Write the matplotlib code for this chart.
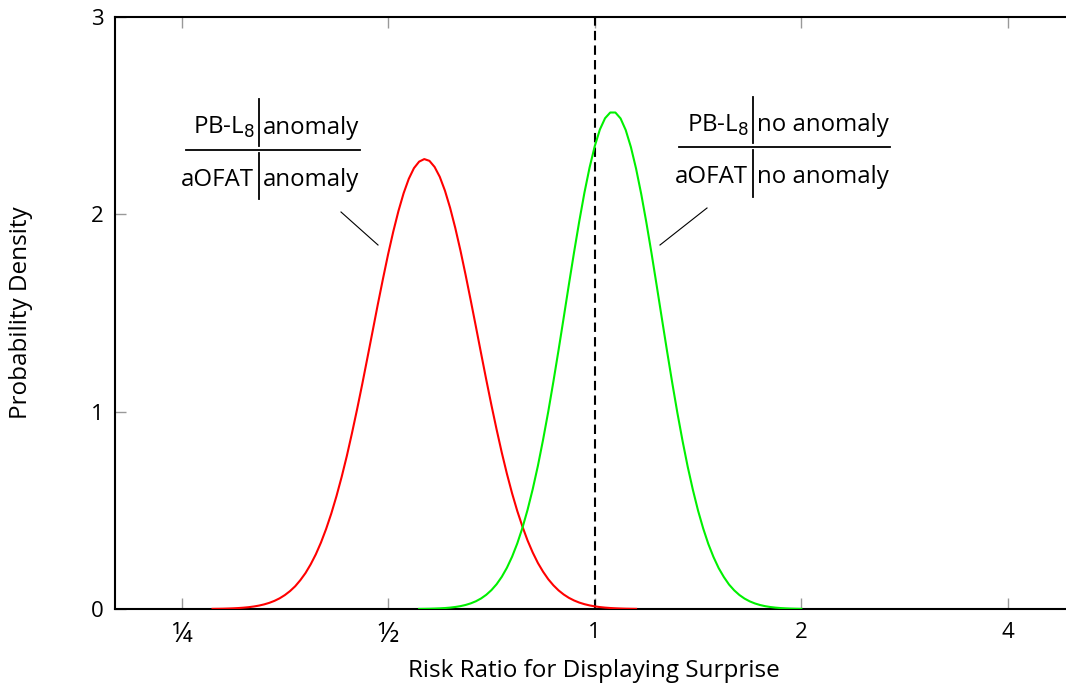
import numpy as np
import matplotlib
matplotlib.use("Agg")
import matplotlib.pyplot as plt
from matplotlib.lines import Line2D

plt.rcParams['font.family'] = ['Open Sans', 'DejaVu Sans']

# risk ratio grid (log2 of the ratio) for PB-L8|anomaly over aOFAT|anomaly
red_log2 = [-1.85, -1.825, -1.80, -1.775, -1.75, -1.725, -1.70, -1.675, -1.65, -1.625,
            -1.60, -1.575, -1.55, -1.525, -1.50, -1.475, -1.45, -1.425, -1.40, -1.375,
            -1.35, -1.325, -1.30, -1.275, -1.25, -1.225, -1.20, -1.175, -1.15, -1.125,
            -1.10, -1.075, -1.05, -1.025, -1.00, -0.975, -0.95, -0.925, -0.90, -0.875,
            -0.85, -0.825, -0.80, -0.775, -0.75, -0.725, -0.70, -0.675, -0.65, -0.625,
            -0.60, -0.575, -0.55, -0.525, -0.50, -0.475, -0.45, -0.425, -0.40, -0.375,
            -0.35, -0.325, -0.30, -0.275, -0.25, -0.225, -0.20, -0.175, -0.15, -0.125,
            -0.10, -0.075, -0.05, -0.025, 0.00, 0.025, 0.05, 0.075, 0.10, 0.125,
            0.15, 0.175, 0.20]
red_density = [0.0008, 0.0011, 0.0016, 0.0024, 0.0034, 0.0048, 0.0067, 0.0092, 0.0127, 0.0173,
               0.0234, 0.0312, 0.0413, 0.0542, 0.0705, 0.0906, 0.115, 0.146, 0.182, 0.226,
               0.277, 0.337, 0.406, 0.484, 0.572, 0.669, 0.775, 0.891, 1.013, 1.141,
               1.274, 1.408, 1.543, 1.673, 1.798, 1.913, 2.017, 2.107, 2.180, 2.234,
               2.267, 2.280, 2.271, 2.240, 2.190, 2.120, 2.033, 1.931, 1.817, 1.693,
               1.563, 1.430, 1.295, 1.162, 1.033, 0.910, 0.793, 0.685, 0.586, 0.497,
               0.418, 0.347, 0.286, 0.233, 0.189, 0.151, 0.120, 0.0942, 0.0734, 0.0565,
               0.0432, 0.0326, 0.0245, 0.0182, 0.0134, 0.0097, 0.0070, 0.0050, 0.0036, 0.0025,
               0.0017, 0.0012, 0.0008]

# risk ratio grid (log2) for PB-L8|no anomaly over aOFAT|no anomaly
green_log2 = [-0.85, -0.825, -0.80, -0.775, -0.75, -0.725, -0.70, -0.675, -0.65, -0.625,
              -0.60, -0.575, -0.55, -0.525, -0.50, -0.475, -0.45, -0.425, -0.40, -0.375,
              -0.35, -0.325, -0.30, -0.275, -0.25, -0.225, -0.20, -0.175, -0.15, -0.125,
              -0.10, -0.075, -0.05, -0.025, 0.00, 0.025, 0.05, 0.075, 0.10, 0.125,
              0.15, 0.175, 0.20, 0.225, 0.25, 0.275, 0.30, 0.325, 0.35, 0.375,
              0.40, 0.425, 0.45, 0.475, 0.50, 0.525, 0.55, 0.575, 0.60, 0.625,
              0.65, 0.675, 0.70, 0.725, 0.75, 0.775, 0.80, 0.825, 0.85, 0.875,
              0.90, 0.925, 0.95, 0.975, 1.00]
green_density = [0.0006, 0.0009, 0.0014, 0.0022, 0.0033, 0.0048, 0.0070, 0.0102, 0.0145, 0.0205,
                 0.0286, 0.0393, 0.0535, 0.0720, 0.0957, 0.1255, 0.163, 0.209, 0.265, 0.332,
                 0.411, 0.503, 0.608, 0.726, 0.858, 1.000, 1.153, 1.313, 1.478, 1.645,
                 1.808, 1.964, 2.109, 2.237, 2.345, 2.430, 2.487, 2.516, 2.516, 2.486,
                 2.427, 2.341, 2.232, 2.103, 1.958, 1.802, 1.638, 1.472, 1.307, 1.147,
                 0.994, 0.852, 0.721, 0.604, 0.499, 0.408, 0.329, 0.263, 0.207, 0.162,
                 0.124, 0.0946, 0.0711, 0.0528, 0.0388, 0.0282, 0.0202, 0.0143, 0.0100, 0.0069,
                 0.0047, 0.0032, 0.0021, 0.0014, 0.0009]

x_ticks = [0.25, 0.5, 1, 2, 4]
x_ticklabels = ['¼', '½', '1', '2', '4']
y_ticks = [0, 1, 2, 3]

W, H = 1066, 685
fig = plt.figure(figsize=(W / 100, H / 100), dpi=100)
ax = fig.add_axes([115 / W, (H - 609) / H, 1 - 115 / W, (609 - 17) / H])

ax.plot(2.0 ** np.array(red_log2), red_density, color='#ff0000', lw=1.5,
        solid_joinstyle='round', zorder=3)
ax.plot(2.0 ** np.array(green_log2), green_density, color='#00f000', lw=1.5,
        solid_joinstyle='round', zorder=3)
ax.axvline(1, color='black', lw=1.5, ls=(0, (4.5, 2.5)), zorder=2)

ax.set_xscale('log', base=2)
ax.set_xlim(0.2, 4.86)
ax.set_ylim(0, 3)
ax.set_xticks(x_ticks)
ax.set_xticklabels(x_ticklabels)
ax.minorticks_off()
ax.set_yticks(y_ticks)

for side in ['left', 'bottom', 'top']:
    ax.spines[side].set_linewidth(1.5)
ax.spines['right'].set_visible(False)
ax.tick_params(axis='both', direction='in', length=8, width=1, color='#999999',
               labelsize=16)
ax.tick_params(axis='x', top=True, pad=9)
ax.tick_params(axis='y', pad=8)

# the fraction glyphs are drawn small in this font, so enlarge them
for lbl in ax.get_xticklabels():
    if lbl.get_text() in ('¼', '½'):
        lbl.set_fontsize(20)

ax.set_xlabel('Risk Ratio for Displaying Surprise', fontsize=17.5)
ax.set_ylabel('Probability Density', fontsize=17.5)
ax.xaxis.set_label_coords(0.504, -0.084)
ax.yaxis.set_label_coords(-0.086, 0.5)


def px(x, y):
    return x / W, 1 - y / H


def fraction_label(bar_x, top, mid, bottom, left, right, tag, leader):
    # stacked ratio "PB-L8|tag / aOFAT|tag" placed in figure pixels
    fs = 17.3
    num_y = (top + mid) / 2 + 3
    den_y = (mid + bottom) / 2 + 5
    fig.text(*px(bar_x - 4, num_y), 'PB-L$_8$', ha='right', va='center', fontsize=fs)
    fig.text(*px(bar_x + 4, num_y), tag, ha='left', va='center', fontsize=fs)
    fig.text(*px(bar_x - 5, den_y), 'aOFAT', ha='right', va='center', fontsize=fs)
    fig.text(*px(bar_x + 4, den_y), tag, ha='left', va='center', fontsize=fs)
    lines = [
        ([bar_x, bar_x], [top, mid - 4]),
        ([bar_x, bar_x], [mid + 3, bottom]),
        ([left, right], [mid, mid]),
    ]
    for xs, ys in lines:
        fig.add_artist(Line2D([x / W for x in xs], [1 - y / H for y in ys],
                              color='black', lw=1.3))
    (x0, y0), (x1, y1) = leader
    fig.add_artist(Line2D([x0 / W, x1 / W], [1 - y0 / H, 1 - y1 / H],
                          color='black', lw=0.8))


fraction_label(259, 99, 150, 199, 186, 360, 'anomaly', ((341, 212), (378, 245)))
fraction_label(753, 97, 147, 197, 679, 890, 'no anomaly', ((707, 208), (660, 245)))

fig.savefig('out.png', dpi=100)
